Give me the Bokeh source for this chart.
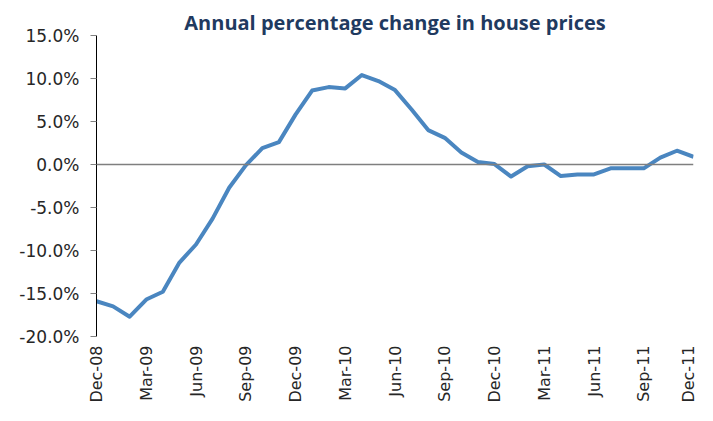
import math
from bokeh.plotting import figure
from bokeh.models import Range1d, FixedTicker, Span, NumeralTickFormatter
from bokeh.embed import file_html
from bokeh.resources import INLINE

months = ["Dec-08", "Jan-09", "Feb-09", "Mar-09", "Apr-09", "May-09", "Jun-09", "Jul-09",
          "Aug-09", "Sep-09", "Oct-09", "Nov-09", "Dec-09", "Jan-10", "Feb-10", "Mar-10",
          "Apr-10", "May-10", "Jun-10", "Jul-10", "Aug-10", "Sep-10", "Oct-10", "Nov-10",
          "Dec-10", "Jan-11", "Feb-11", "Mar-11", "Apr-11", "May-11", "Jun-11", "Jul-11",
          "Aug-11", "Sep-11", "Oct-11", "Nov-11", "Dec-11"]
change_pct = [-15.9, -16.5, -17.7, -15.7, -14.8, -11.4, -9.3, -6.3,
              -2.7, -0.1, 1.9, 2.6, 5.8, 8.6, 9.0, 8.85,
              10.4, 9.7, 8.65, 6.4, 4.0, 3.1, 1.4, 0.3,
              0.05, -1.4, -0.2, 0.0, -1.35, -1.15, -1.15, -0.45,
              -0.45, -0.45, 0.8, 1.6, 0.9]
y_ticks = [-20, -15, -10, -5, 0, 5, 10, 15]
x_label_every = 3

x = list(range(len(months)))
y = [v / 100 for v in change_pct]

p = figure(width=697, height=405, output_backend="svg", toolbar_location=None,
           x_range=Range1d(0, len(months) - 1), y_range=Range1d(-0.20, 0.15),
           min_border_left=96, min_border_right=4, min_border_top=35, min_border_bottom=69,
           title="Annual percentage change in house prices")
p.title.align = "center"
p.title.text_font = "Open Sans"
p.title.text_font_size = "20px"
p.title.text_font_style = "bold"
p.title.text_color = "#1f3a60"
p.title.standoff = 0

p.grid.visible = False
p.outline_line_color = None
p.background_fill_color = "white"
p.border_fill_color = "white"

p.add_layout(Span(location=0, dimension="width", line_color="#7f7f7f", line_width=1.5))
p.line(x, y, line_color="#4a86c0", line_width=4, line_join="round")

xt = x[::x_label_every]
p.xaxis.ticker = FixedTicker(ticks=xt)
p.xaxis.major_label_overrides = {i: months[i] for i in xt}
p.xaxis.major_label_orientation = math.pi / 2
p.xaxis.axis_line_color = None
p.xaxis.major_tick_line_color = None
p.xaxis.minor_tick_line_color = None
p.xaxis.major_label_standoff = 3
p.xaxis.major_label_text_font = "DejaVu Sans"
p.xaxis.major_label_text_font_size = "16px"
p.xaxis.major_label_text_color = "#262626"

p.yaxis.ticker = FixedTicker(ticks=[t / 100 for t in y_ticks])
p.yaxis.formatter = NumeralTickFormatter(format="0.0%")
p.yaxis.axis_line_color = "black"
p.yaxis.axis_line_width = 1
p.yaxis.major_tick_line_color = "#808080"
p.yaxis.major_tick_out = 6
p.yaxis.major_tick_in = 0
p.yaxis.minor_tick_line_color = None
p.yaxis.major_label_standoff = 11
p.yaxis.major_label_text_font = "DejaVu Sans"
p.yaxis.major_label_text_font_size = "17px"
p.yaxis.major_label_text_color = "#262626"

open("out.html", "w").write(file_html(p, INLINE))
